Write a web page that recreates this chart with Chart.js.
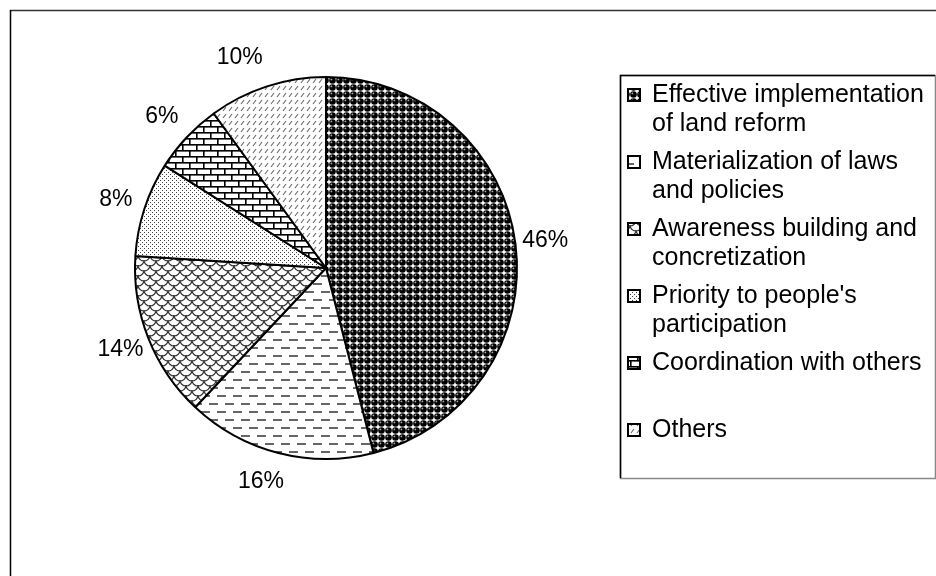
<!DOCTYPE html>
<html>
<head>
<meta charset="utf-8">
<script src="https://cdn.jsdelivr.net/npm/chart.js@4.4.1/dist/chart.umd.min.js"></script>
<style>
  html, body { margin: 0; padding: 0; background: #fff; }
  #wrap { width: 936px; height: 576px; }
</style>
</head>
<body>
<div id="wrap"><canvas id="pie" width="936" height="576"></canvas></div>
<script>
// data
const categories = [
  ["Effective implementation", "of land reform"],
  ["Materialization of laws", "and policies"],
  ["Awareness building and", "concretization"],
  ["Priority to people's", "participation"],
  ["Coordination with others"],
  ["Others"]
];
const shares = [46, 16, 14, 8, 6, 10];
const shareLabels = ["46%", "16%", "14%", "8%", "6%", "10%"];

const FONT = '"Liberation Sans", Arial, sans-serif';
const canvas = document.getElementById("pie");
const ctx = canvas.getContext("2d");

// black & white fill patterns, one per slice
function tile(w, h, paint) {
  const t = document.createElement("canvas");
  t.width = w; t.height = h;
  const g = t.getContext("2d");
  g.fillStyle = "#fff";
  g.fillRect(0, 0, w, h);
  paint(g);
  return ctx.createPattern(t, "repeat");
}

const patterns = [
  // shaded balls
  tile(7, 7, g => {
    g.fillStyle = "#000";
    g.beginPath(); g.arc(3.5, 3.5, 3.3, 0, Math.PI * 2); g.fill();
    g.fillStyle = "#aaa";
    g.beginPath(); g.arc(2.4, 2.4, 0.9, 0, Math.PI * 2); g.fill();
  }),
  // staggered dashes
  tile(16, 16, g => {
    g.strokeStyle = "#333"; g.lineWidth = 1.6;
    g.beginPath();
    g.moveTo(1, 4); g.lineTo(10, 4);
    g.moveTo(9, 12); g.lineTo(16, 12);
    g.moveTo(0, 12); g.lineTo(2, 12);
    g.stroke();
  }),
  // scales
  tile(12, 10, g => {
    g.strokeStyle = "#333"; g.lineWidth = 1.1;
    [[6, 0], [0, 5], [12, 5], [0, -5], [12, -5]].forEach(([x, y]) => {
      g.beginPath(); g.arc(x, y, 6, 0, Math.PI); g.stroke();
    });
  }),
  // fine dots
  tile(4, 4, g => {
    g.fillStyle = "#444";
    g.fillRect(0, 0, 1, 1);
    g.fillRect(2, 2, 1, 1);
  }),
  // bricks
  tile(14, 12, g => {
    g.fillStyle = "#000";
    g.fillRect(0, 0, 14, 1.6);
    g.fillRect(0, 6, 14, 1.6);
    g.fillRect(0, 0, 1.6, 6);
    g.fillRect(7, 6, 1.6, 6);
  }),
  // small slashes
  tile(6, 7, g => {
    g.strokeStyle = "#666"; g.lineWidth = 1.1;
    g.beginPath(); g.moveTo(1, 6); g.lineTo(4, 2); g.stroke();
  })
];

// outer frame
const framePlugin = {
  id: "frame",
  beforeDraw(chart) {
    const c = chart.ctx;
    c.save();
    c.lineWidth = 1.5;
    c.strokeStyle = "#333";
    c.beginPath(); c.moveTo(10, 10.5); c.lineTo(936, 10.5); c.stroke();
    c.strokeStyle = "#000";
    c.beginPath(); c.moveTo(10.5, 10); c.lineTo(10.5, 576); c.stroke();
    c.restore();
  }
};

// percentage labels outside the slices
const labelNudgeX = [0, -10, 0, 0, -3, -18];
const labelPlugin = {
  id: "outsideLabels",
  afterDatasetsDraw(chart) {
    const c = chart.ctx;
    const meta = chart.getDatasetMeta(0);
    c.save();
    c.font = "23px " + FONT;
    c.fillStyle = "#000";
    c.textAlign = "center";
    c.textBaseline = "middle";
    meta.data.forEach((arc, i) => {
      const p = arc.getProps(["x", "y", "startAngle", "endAngle", "outerRadius"], true);
      const mid = (p.startAngle + p.endAngle) / 2;
      const r = p.outerRadius + 30;
      c.fillText(shareLabels[i], p.x + Math.cos(mid) * r + labelNudgeX[i], p.y + Math.sin(mid) * r);
    });
    c.restore();
  }
};

// boxed legend on the right
const legendPlugin = {
  id: "boxLegend",
  afterDraw(chart) {
    const c = chart.ctx;
    const box = { x: 620, y: 75, w: 315, h: 403 };
    c.save();
    c.lineWidth = 1.5;
    c.strokeStyle = "#888";
    c.strokeRect(box.x + 0.5, box.y + 0.5, box.w, box.h);
    c.strokeStyle = "#000";
    c.beginPath();
    c.moveTo(box.x + 0.5, box.y + box.h); c.lineTo(box.x + 0.5, box.y + 0.5); c.lineTo(box.x + box.w, box.y + 0.5);
    c.stroke();

    c.font = "25px " + FONT;
    c.textBaseline = "middle";
    c.textAlign = "left";
    categories.forEach((lines, i) => {
      const y0 = 95 + i * 67;
      c.fillStyle = patterns[i];
      c.fillRect(628, y0 - 6, 12, 12);
      c.lineWidth = 2;
      c.strokeStyle = "#000";
      c.strokeRect(628, y0 - 6, 12, 12);
      c.fillStyle = "#000";
      lines.forEach((t, j) => c.fillText(t, 652, y0 + j * 29));
    });
    c.restore();
  }
};

new Chart(canvas, {
  type: "pie",
  data: {
    labels: categories,
    datasets: [{
      data: shares,
      backgroundColor: patterns,
      hoverBackgroundColor: patterns,
      borderColor: "#000",
      hoverBorderColor: "#000",
      borderWidth: 2,
      hoverBorderWidth: 2,
      hoverOffset: 0
    }]
  },
  options: {
    responsive: false,
    animation: false,
    devicePixelRatio: 1,
    events: [],
    layout: { padding: { left: 134, top: 76, right: 418, bottom: 116 } },
    plugins: {
      legend: { display: false },
      tooltip: { enabled: false }
    }
  },
  plugins: [framePlugin, labelPlugin, legendPlugin]
});
</script>
</body>
</html>
